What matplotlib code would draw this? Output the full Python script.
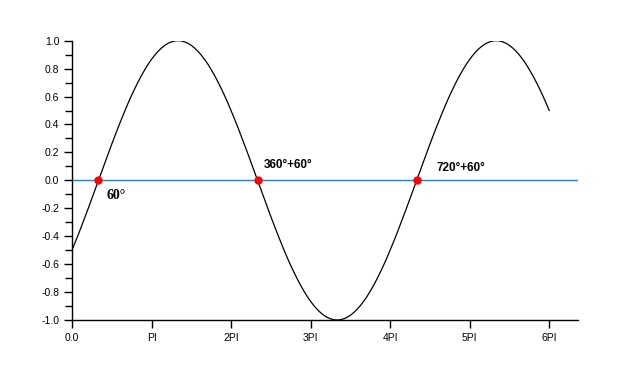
import numpy as np
import matplotlib
matplotlib.use("Agg")
import matplotlib.pyplot as plt
from matplotlib.ticker import MultipleLocator, FormatStrFormatter

# x sampled every 7.5 degrees from 0 to 6*PI (1080 deg)
x_deg = [7.5 * i for i in range(145)]
y_vals = [
    -0.500, -0.442, -0.383, -0.321, -0.259, -0.195, -0.131, -0.065,
    0.000, 0.065, 0.131, 0.195, 0.259, 0.321, 0.383, 0.442, 0.500, 0.556, 0.609, 0.659,
    0.707, 0.752, 0.793, 0.832, 0.866, 0.897, 0.924, 0.947, 0.966, 0.981, 0.991, 0.998, 1.000,
    0.998, 0.991, 0.981, 0.966, 0.947, 0.924, 0.897, 0.866, 0.832, 0.793, 0.752, 0.707,
    0.659, 0.609, 0.556, 0.500, 0.442, 0.383, 0.321, 0.259, 0.195, 0.131, 0.065, 0.000,
    -0.065, -0.131, -0.195, -0.259, -0.321, -0.383, -0.442, -0.500, -0.556, -0.609, -0.659,
    -0.707, -0.752, -0.793, -0.832, -0.866, -0.897, -0.924, -0.947, -0.966, -0.981, -0.991,
    -0.998, -1.000,
    -0.998, -0.991, -0.981, -0.966, -0.947, -0.924, -0.897, -0.866, -0.832, -0.793, -0.752,
    -0.707, -0.659, -0.609, -0.556, -0.500, -0.442, -0.383, -0.321, -0.259, -0.195, -0.131,
    -0.065, 0.000,
    0.065, 0.131, 0.195, 0.259, 0.321, 0.383, 0.442, 0.500, 0.556, 0.609, 0.659,
    0.707, 0.752, 0.793, 0.832, 0.866, 0.897, 0.924, 0.947, 0.966, 0.981, 0.991, 0.998, 1.000,
    0.998, 0.991, 0.981, 0.966, 0.947, 0.924, 0.897, 0.866, 0.832, 0.793, 0.752, 0.707,
    0.659, 0.609, 0.556, 0.500,
]

# zero crossings (degrees) and their labels
zero_deg = [60, 420, 780]
zero_labels = ["60°", "360°+60°", "720°+60°"]
label_pos = [(0.43, -0.11), (2.41, 0.11), (4.58, 0.09)]
label_font = ["Liberation Serif", "Liberation Sans", "Liberation Sans"]

xticks = [0, 1, 2, 3, 4, 5, 6]
xticklabels = ["0.0", "PI", "2PI", "3PI", "4PI", "5PI", "6PI"]

fig = plt.figure(figsize=(6.42, 3.73), dpi=100)
ax = fig.add_axes([0.1121, 0.142, 0.788, 0.749])

x = np.array(x_deg) / 180.0
ax.axhline(0, color="#2a7fd4", lw=1.0, zorder=1)
ax.plot(x, y_vals, color="black", lw=0.9, zorder=2)
ax.plot(np.array(zero_deg) / 180.0, [0] * len(zero_deg), "o", color="red",
        markersize=5, zorder=3)

for lab, (tx, ty), fam in zip(zero_labels, label_pos, label_font):
    size = 10 if fam == "Liberation Serif" else 8.5
    ax.text(tx, ty, lab, fontsize=size, fontweight="bold", family=fam,
            va="center", ha="left")

ax.set_xlim(0, 6.36)
ax.set_ylim(-1, 1)
ax.set_xticks(xticks)
ax.set_xticklabels(xticklabels)
ax.yaxis.set_major_locator(MultipleLocator(0.2))
ax.yaxis.set_minor_locator(MultipleLocator(0.1))
ax.yaxis.set_major_formatter(FormatStrFormatter("%.1f"))

for s in ["top", "right"]:
    ax.spines[s].set_visible(False)
for s in ["left", "bottom"]:
    ax.spines[s].set_linewidth(1.0)

ax.tick_params(axis="both", which="major", length=6, width=1.0,
               labelsize=7.5, direction="out", pad=3)
ax.tick_params(axis="y", which="minor", length=5, width=1.0)
for t in ax.get_xticklabels() + ax.get_yticklabels():
    t.set_family("Liberation Sans")

fig.savefig("out.png", dpi=100)
